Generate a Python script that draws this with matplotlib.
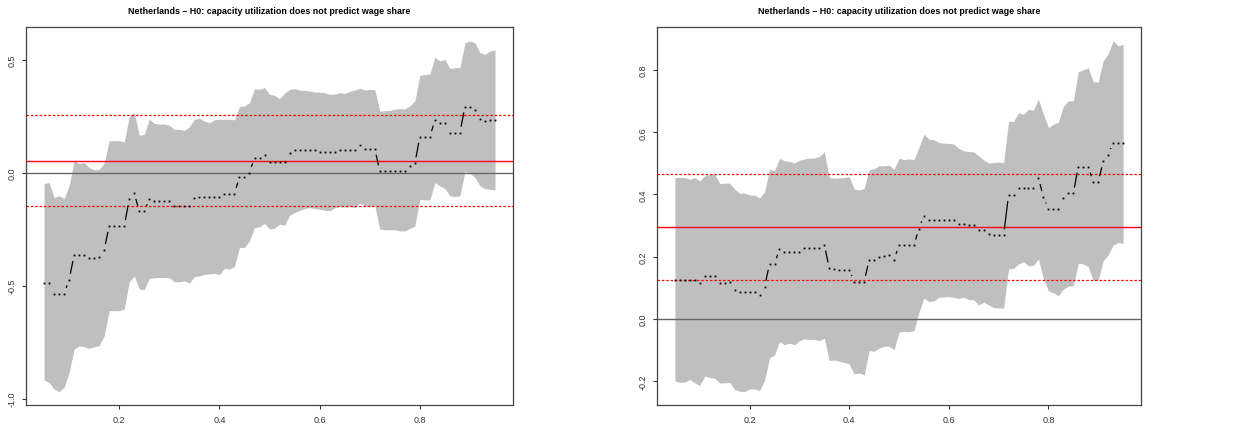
import numpy as np
import matplotlib
matplotlib.use("Agg")
import matplotlib.pyplot as plt

plt.rcParams["font.family"] = ["Liberation Sans", "DejaVu Sans"]

title = "Netherlands \u2013 H0: capacity utilization does not predict wage share"

# quantiles 0.05 .. 0.95
taus = [round(0.05 + 0.01 * i, 2) for i in range(91)]

# left panel: quantile regression coefficient and band
coef_left = [
    -0.487, -0.487, -0.535, -0.535, -0.535, -0.474, -0.365, -0.365, -0.365, -0.378,
    -0.378, -0.373, -0.342, -0.236, -0.236, -0.236, -0.236, -0.118, -0.091, -0.172,
    -0.172, -0.115, -0.124, -0.124, -0.124, -0.124, -0.147, -0.147, -0.147, -0.147,
    -0.112, -0.110, -0.110, -0.110, -0.110, -0.110, -0.093, -0.093, -0.093, -0.019,
    -0.019, 0.000, 0.066, 0.066, 0.078, 0.046, 0.046, 0.046, 0.046, 0.087,
    0.099, 0.099, 0.099, 0.099, 0.099, 0.093, 0.093, 0.090, 0.090, 0.102,
    0.102, 0.102, 0.102, 0.122, 0.105, 0.105, 0.105, 0.006, 0.006, 0.007,
    0.007, 0.007, 0.007, 0.027, 0.041, 0.158, 0.158, 0.158, 0.233, 0.218,
    0.218, 0.177, 0.177, 0.177, 0.292, 0.292, 0.277, 0.239, 0.227, 0.233,
    0.233,
]
upper_left = [
    -0.049, -0.044, -0.110, -0.103, -0.115, -0.059, 0.052, 0.040, 0.044, 0.022,
    0.013, 0.015, 0.041, 0.140, 0.141, 0.141, 0.135, 0.247, 0.265, 0.165,
    0.169, 0.236, 0.218, 0.214, 0.215, 0.209, 0.191, 0.191, 0.187, 0.202,
    0.236, 0.240, 0.228, 0.221, 0.233, 0.236, 0.236, 0.236, 0.233, 0.292,
    0.295, 0.309, 0.371, 0.368, 0.376, 0.346, 0.342, 0.327, 0.351, 0.368,
    0.371, 0.365, 0.364, 0.361, 0.356, 0.356, 0.353, 0.346, 0.347, 0.353,
    0.350, 0.359, 0.365, 0.373, 0.365, 0.368, 0.367, 0.271, 0.274, 0.275,
    0.280, 0.283, 0.281, 0.295, 0.317, 0.430, 0.433, 0.436, 0.510, 0.493,
    0.501, 0.460, 0.464, 0.464, 0.574, 0.582, 0.574, 0.530, 0.523, 0.538,
    0.542,
]
lower_left = [
    -0.918, -0.928, -0.957, -0.969, -0.950, -0.884, -0.781, -0.766, -0.770, -0.778,
    -0.770, -0.766, -0.722, -0.611, -0.611, -0.611, -0.604, -0.483, -0.457, -0.515,
    -0.518, -0.468, -0.465, -0.464, -0.464, -0.465, -0.483, -0.483, -0.479, -0.489,
    -0.460, -0.457, -0.451, -0.448, -0.445, -0.451, -0.424, -0.427, -0.415, -0.331,
    -0.331, -0.302, -0.243, -0.240, -0.225, -0.250, -0.246, -0.228, -0.233, -0.189,
    -0.177, -0.167, -0.159, -0.155, -0.159, -0.162, -0.167, -0.169, -0.156, -0.150,
    -0.153, -0.150, -0.155, -0.135, -0.147, -0.150, -0.147, -0.250, -0.253, -0.253,
    -0.253, -0.258, -0.258, -0.247, -0.236, -0.118, -0.121, -0.121, -0.044, -0.059,
    -0.071, -0.103, -0.106, -0.103, 0.007, -0.003, -0.022, -0.059, -0.071, -0.074,
    -0.077,
]
ols_left = 0.053
ols_ci_left = [-0.149, 0.255]

# right panel
coef_right = [
    0.125, 0.124, 0.124, 0.124, 0.124, 0.114, 0.138, 0.138, 0.138, 0.114,
    0.114, 0.117, 0.093, 0.085, 0.085, 0.085, 0.085, 0.077, 0.103, 0.176,
    0.176, 0.224, 0.213, 0.213, 0.213, 0.213, 0.226, 0.226, 0.226, 0.226,
    0.238, 0.162, 0.160, 0.158, 0.158, 0.158, 0.119, 0.119, 0.119, 0.189,
    0.189, 0.200, 0.202, 0.205, 0.190, 0.236, 0.236, 0.236, 0.236, 0.290,
    0.331, 0.318, 0.318, 0.318, 0.318, 0.318, 0.318, 0.305, 0.305, 0.302,
    0.302, 0.286, 0.286, 0.271, 0.268, 0.268, 0.268, 0.398, 0.398, 0.421,
    0.421, 0.421, 0.421, 0.452, 0.392, 0.353, 0.353, 0.353, 0.388, 0.403,
    0.403, 0.489, 0.489, 0.489, 0.440, 0.440, 0.506, 0.528, 0.567, 0.564,
    0.564,
]
upper_right = [
    0.454, 0.455, 0.454, 0.449, 0.454, 0.444, 0.460, 0.465, 0.465, 0.435,
    0.436, 0.436, 0.417, 0.404, 0.404, 0.398, 0.398, 0.388, 0.408, 0.481,
    0.476, 0.516, 0.508, 0.506, 0.501, 0.510, 0.514, 0.517, 0.517, 0.522,
    0.537, 0.454, 0.452, 0.453, 0.454, 0.457, 0.417, 0.414, 0.419, 0.479,
    0.483, 0.492, 0.492, 0.494, 0.481, 0.516, 0.512, 0.514, 0.512, 0.551,
    0.594, 0.578, 0.576, 0.567, 0.565, 0.564, 0.562, 0.548, 0.540, 0.538,
    0.537, 0.524, 0.511, 0.501, 0.503, 0.504, 0.502, 0.635, 0.635, 0.663,
    0.658, 0.674, 0.671, 0.706, 0.658, 0.615, 0.626, 0.633, 0.683, 0.701,
    0.701, 0.795, 0.801, 0.808, 0.762, 0.762, 0.830, 0.853, 0.894, 0.878,
    0.883,
]
lower_right = [
    -0.201, -0.205, -0.204, -0.196, -0.207, -0.215, -0.185, -0.189, -0.192, -0.207,
    -0.207, -0.205, -0.228, -0.234, -0.235, -0.226, -0.226, -0.232, -0.199, -0.126,
    -0.117, -0.074, -0.084, -0.079, -0.084, -0.071, -0.065, -0.067, -0.067, -0.071,
    -0.063, -0.135, -0.133, -0.137, -0.141, -0.146, -0.178, -0.175, -0.181, -0.103,
    -0.105, -0.095, -0.089, -0.089, -0.100, -0.044, -0.041, -0.042, -0.039, 0.020,
    0.066, 0.055, 0.057, 0.069, 0.070, 0.071, 0.069, 0.065, 0.069, 0.061,
    0.061, 0.044, 0.053, 0.044, 0.036, 0.034, 0.034, 0.160, 0.162, 0.176,
    0.183, 0.170, 0.172, 0.192, 0.128, 0.090, 0.083, 0.074, 0.095, 0.104,
    0.106, 0.178, 0.176, 0.167, 0.122, 0.124, 0.186, 0.205, 0.237, 0.245,
    0.242,
]
ols_right = 0.295
ols_ci_right = [0.124, 0.467]

panels = [
    (coef_left, lower_left, upper_left, ols_left, ols_ci_left,
     [0.0209, 0.0667, 0.3912, 0.869], (-1.028, 0.644), [-1.0, -0.5, 0.0, 0.5]),
    (coef_right, lower_right, upper_right, ols_right, ols_ci_right,
     [0.5277, 0.0667, 0.3888, 0.869], (-0.278, 0.939), [-0.2, 0.0, 0.2, 0.4, 0.6, 0.8]),
]


def gapped_lines(ax, x, y, gap=6.0):
    # R type="b": segments between points, with a gap around each point
    pts = ax.transData.transform(np.column_stack([x, y]))
    inv = ax.transData.inverted()
    for p0, p1 in zip(pts[:-1], pts[1:]):
        d = p1 - p0
        length = np.hypot(*d)
        if length <= 2 * gap:
            continue
        u = d / length
        a = inv.transform(p0 + u * gap)
        b = inv.transform(p1 - u * gap)
        ax.plot([a[0], b[0]], [a[1], b[1]], color="black", lw=0.9,
                solid_capstyle="butt", zorder=4)


fig = plt.figure(figsize=(12.45, 4.35), dpi=100)

for coef, lo, hi, ols, ci, rect, ylim, yticks in panels:
    ax = fig.add_axes(rect)
    ax.set_xlim(0.014, 0.986)
    ax.set_ylim(*ylim)
    ax.fill_between(taus, lo, hi, color="#bfbfbf", lw=0, zorder=1)
    ax.axhline(0, color="#666666", lw=1.0, zorder=2)
    ax.axhline(ols, color="red", lw=1.0, zorder=3)
    for c in ci:
        ax.axhline(c, color="red", lw=0.9, ls=(0, (2, 1.5)), zorder=3)
    ax.plot(taus, coef, ls="none", marker="s", ms=1.3, mew=0, color="black", zorder=5)
    gapped_lines(ax, taus, coef)

    ax.set_xticks([0.2, 0.4, 0.6, 0.8])
    ax.set_xticklabels(["0.2", "0.4", "0.6", "0.8"])
    ax.set_yticks(yticks)
    ax.set_yticklabels(["%.1f" % v for v in yticks], rotation=90, va="center")
    ax.tick_params(labelsize=6.5, length=3, width=0.8, pad=4, colors="#333333")
    for s in ax.spines.values():
        s.set_color("#444444")
        s.set_linewidth(0.9)
    ax.set_title(title, fontsize=6.4, fontweight="bold", pad=10)

fig.savefig("out.png", dpi=100)
